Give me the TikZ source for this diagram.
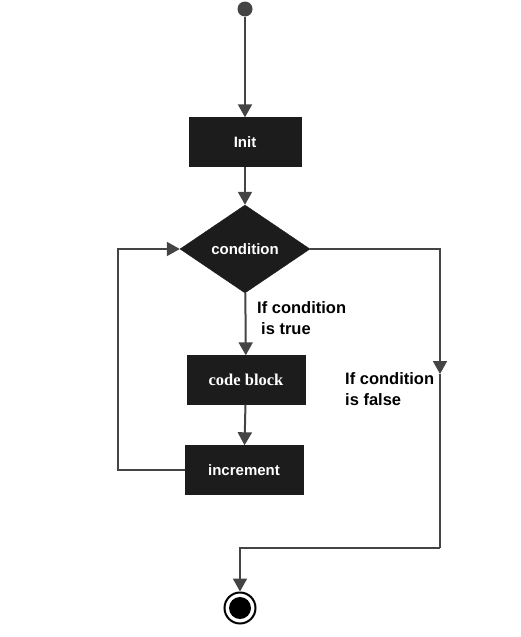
\documentclass[tikz,border=0pt]{standalone}
\usepackage{fontspec}
\setmainfont{Liberation Sans}
\newfontfamily\blockfont{Liberation Serif}
\usetikzlibrary{shapes.geometric,arrows.meta}
\definecolor{boxfill}{HTML}{1C1C1C}
\definecolor{linegray}{HTML}{444444}
\begin{document}
\begin{tikzpicture}[x=1pt,y=-1pt,
  box/.style={fill=boxfill,draw=boxfill,minimum width=112pt,minimum height=49pt,inner sep=0pt,text=white,font=\fontsize{15}{17}\selectfont\bfseries},
  decide/.style={diamond,aspect=1.5,fill=boxfill,draw=boxfill,minimum width=130pt,minimum height=88pt,inner sep=0pt,text=white,font=\fontsize{15}{17}\selectfont\bfseries},
  wire/.style={draw=linegray,line width=2pt},
  flow/.style={wire,-{Triangle[width=14pt,length=13pt]}},
  note/.style={align=left,anchor=north west,inner sep=0pt,font=\fontsize{16.5}{21}\selectfont\bfseries}]
\useasboundingbox (0,0) rectangle (521,637);
% start / stop
\node[circle,fill=linegray,minimum size=15pt,inner sep=0pt] (start) at (245,9) {};
\node[circle,draw=black,line width=2pt,fill=white,minimum size=31pt,inner sep=0pt] (stop) at (240,608) {};
\fill[black] (stop.center) circle (11);
% blocks
\node[box] (init) at (245,142) {Init};
\node[decide] (cond) at (245,249) {condition};
\node[box,minimum width=118pt,font=\blockfont\fontsize{16.5}{19}\selectfont\bfseries] (code) at (246,380) {code block};
\node[box,minimum width=118pt] (incr) at (244,470) {increment};
% labels
\node[note] (truelbl) at (257,301) {If condition\\\hspace{4pt}is true};
\node[note] (falselbl) at (345,372) {If condition\\is false};
% connectors
\coordinate (loopcorner) at (118,470);
\coordinate (falsemid) at (440,374);
\coordinate (falseturn) at (440,548);
\draw[flow] (start) -- (init);
\draw[flow] (init) -- (cond);
\draw[flow] (cond) -- (code);
\draw[flow] (code) -- (incr);
\draw[flow] (incr.west) -- (loopcorner) |- (cond.west);
\draw[flow] (cond.east) -| (falsemid);
\draw[wire] (falsemid) -- (falseturn);
\draw[flow] (falseturn) -| (stop);
\end{tikzpicture}
\end{document}
